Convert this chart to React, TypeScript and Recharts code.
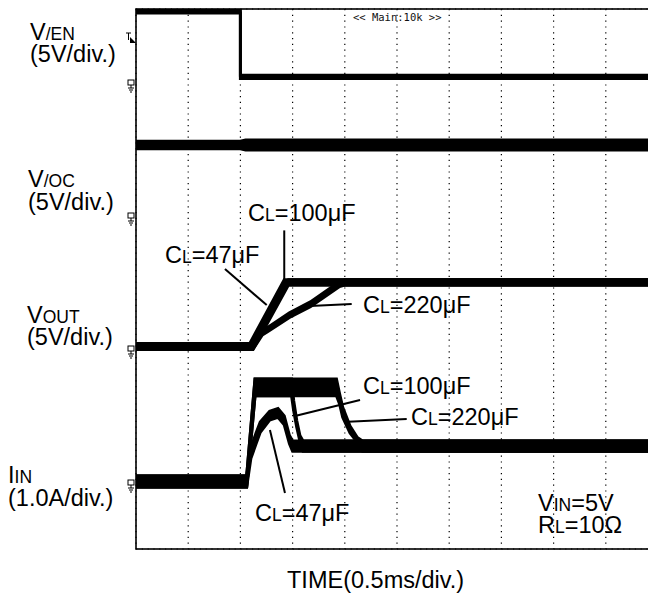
import React from "react";
import {
  ComposedChart,
  Area,
  XAxis,
  YAxis,
  CartesianGrid,
  ReferenceLine,
} from "recharts";

type P = { t: number; lo: number; hi: number };

// time in ms (0.5 ms/div, 10 div)
const timeTicks = [0, 0.5, 1, 1.5, 2, 2.5, 3, 3.5, 4, 4.5, 5];
const divTicks = [0, 1, 2, 3, 4, 5, 6, 7, 8];

// V/EN (V), envelope lo/hi
const enTrace: P[] = [
  { t: 0, lo: 4.7, hi: 4.95 },
  { t: 1.0, lo: 4.7, hi: 4.95 },
  { t: 1.0, lo: -0.15, hi: 0.1 },
  { t: 5, lo: -0.15, hi: 0.1 },
];

// V/OC (V)
const ocTrace: P[] = [
  { t: 0, lo: 4.65, hi: 5.2 },
  { t: 1.0, lo: 4.65, hi: 5.2 },
  { t: 1.05, lo: 4.55, hi: 5.3 },
  { t: 5, lo: 4.55, hi: 5.3 },
];

// VOUT (V)
const vout47: P[] = [
  { t: 0, lo: -0.22, hi: 0.22 },
  { t: 1.09, lo: -0.22, hi: 0.22 },
  { t: 1.42, lo: 4.55, hi: 4.95 },
  { t: 5, lo: 4.55, hi: 4.95 },
];
const vout100: P[] = [
  { t: 0, lo: -0.22, hi: 0.22 },
  { t: 1.12, lo: -0.22, hi: 0.22 },
  { t: 1.46, lo: 4.55, hi: 4.95 },
  { t: 5, lo: 4.55, hi: 4.95 },
];
const vout220: P[] = [
  { t: 0, lo: -0.22, hi: 0.22 },
  { t: 1.12, lo: -0.22, hi: 0.22 },
  { t: 1.21, lo: 0.85, hi: 1.15 },
  { t: 1.26, lo: 1.1, hi: 1.4 },
  { t: 1.47, lo: 2.15, hi: 2.5 },
  { t: 1.67, lo: 2.95, hi: 3.3 },
  { t: 1.95, lo: 4.45, hi: 4.8 },
  { t: 2.0, lo: 4.55, hi: 4.95 },
  { t: 5, lo: 4.55, hi: 4.95 },
];

// IIN (A)
const iin47: P[] = [
  { t: 0, lo: -0.08, hi: 0.08 },
  { t: 1.06, lo: -0.08, hi: 0.08 },
  { t: 1.1, lo: 0.34, hi: 0.5 },
  { t: 1.15, lo: 0.56, hi: 0.72 },
  { t: 1.19, lo: 0.73, hi: 0.88 },
  { t: 1.28, lo: 0.91, hi: 1.04 },
  { t: 1.36, lo: 0.95, hi: 1.08 },
  { t: 1.42, lo: 0.84, hi: 0.97 },
  { t: 1.47, lo: 0.56, hi: 0.68 },
  { t: 1.5, lo: 0.45, hi: 0.6 },
  { t: 5, lo: 0.45, hi: 0.6 },
];
const iin100: P[] = [
  { t: 0, lo: -0.08, hi: 0.08 },
  { t: 1.06, lo: -0.08, hi: 0.08 },
  { t: 1.14, lo: 1.27, hi: 1.52 },
  { t: 1.49, lo: 1.27, hi: 1.52 },
  { t: 1.51, lo: 1.05, hi: 1.2 },
  { t: 1.54, lo: 0.8, hi: 0.9 },
  { t: 1.57, lo: 0.6, hi: 0.68 },
  { t: 1.6, lo: 0.45, hi: 0.6 },
  { t: 5, lo: 0.45, hi: 0.6 },
];
const iin220: P[] = [
  { t: 0, lo: -0.08, hi: 0.08 },
  { t: 1.06, lo: -0.08, hi: 0.08 },
  { t: 1.14, lo: 1.27, hi: 1.52 },
  { t: 1.92, lo: 1.27, hi: 1.52 },
  { t: 1.95, lo: 1.15, hi: 1.3 },
  { t: 1.98, lo: 0.95, hi: 1.1 },
  { t: 2.05, lo: 0.72, hi: 0.82 },
  { t: 2.12, lo: 0.58, hi: 0.65 },
  { t: 2.17, lo: 0.45, hi: 0.6 },
  { t: 5, lo: 0.45, hi: 0.6 },
];

const range = (d: P) => [d.lo, d.hi];

const FONT = "'Liberation Sans', Arial, Helvetica, sans-serif";
const BIG = 23.5;
const SMALL = 17.5;

function Lbl({ x, y, parts }: { x: number; y: number; parts: [string, boolean][] }) {
  return (
    <text x={x} y={y} fontFamily={FONT} fontSize={BIG} fill="#000">
      {parts.map(([s, small], i) => (
        <tspan key={i} fontSize={small ? SMALL : BIG}>
          {s}
        </tspan>
      ))}
    </text>
  );
}

function Ground({ x, y }: { x: number; y: number }) {
  return (
    <g stroke="#000" strokeWidth={1} fill="none">
      <rect x={x} y={y} width={6} height={5} fill="#fff" />
      <line x1={x + 3} y1={y + 5} x2={x + 3} y2={y + 8} />
      <line x1={x} y1={y + 8} x2={x + 6} y2={y + 8} />
      <line x1={x + 1} y1={y + 10} x2={x + 5} y2={y + 10} />
      <line x1={x + 2} y1={y + 12} x2={x + 4} y2={y + 12} />
    </g>
  );
}

const series = (id: string, data: P[], key: string) => (
  <Area
    key={key}
    yAxisId={id}
    data={data}
    dataKey={range}
    type="linear"
    stroke="#000"
    strokeWidth={3}
    fill="#000"
    fillOpacity={1}
    dot={false}
    activeDot={false}
    isAnimationActive={false}
  />
);

export default function App() {
  return (
    <div
      style={{
        position: "absolute",
        left: 0,
        top: 0,
        width: 648,
        height: 595,
        overflow: "hidden",
        background: "#fff",
      }}
    >
      <ComposedChart width={660} height={595} margin={{ top: 9, right: 2, bottom: 46, left: 136 }}>
        <XAxis type="number" dataKey="t" domain={[0, 5]} ticks={timeTicks} hide allowDataOverflow />
        <YAxis yAxisId="g" type="number" domain={[0, 8]} ticks={divTicks} hide />
        <YAxis yAxisId="en" type="number" domain={[-35, 5]} hide allowDataOverflow />
        <YAxis yAxisId="oc" type="number" domain={[-25, 15]} hide allowDataOverflow />
        <YAxis yAxisId="vout" type="number" domain={[-15, 25]} hide allowDataOverflow />
        <YAxis yAxisId="iin" type="number" domain={[-1, 7]} hide allowDataOverflow />
        <CartesianGrid yAxisId="g" stroke="#000" strokeWidth={1.2} strokeDasharray="1.2 4.6" />
        {series("en", enTrace, "en")}
        {series("oc", ocTrace, "oc")}
        {series("vout", vout220, "v220")}
        {series("vout", vout100, "v100")}
        {series("vout", vout47, "v47")}
        {series("iin", iin220, "i220")}
        {series("iin", iin100, "i100")}
        {series("iin", iin47, "i47")}
        <ReferenceLine yAxisId="vout" segment={[{ x: 1.42, y: 8.6 }, { x: 1.42, y: 4.95 }]} stroke="#000" strokeWidth={2} ifOverflow="visible" />
        <ReferenceLine yAxisId="vout" segment={[{ x: 0.852, y: 5.74 }, { x: 1.252, y: 3.07 }]} stroke="#000" strokeWidth={2} ifOverflow="visible" />
        <ReferenceLine yAxisId="vout" segment={[{ x: 1.667, y: 3.0 }, { x: 2.066, y: 3.15 }]} stroke="#000" strokeWidth={2} ifOverflow="visible" />
        <ReferenceLine yAxisId="iin" segment={[{ x: 1.523, y: 0.97 }, { x: 2.146, y: 1.207 }]} stroke="#000" strokeWidth={2} ifOverflow="visible" />
        <ReferenceLine yAxisId="iin" segment={[{ x: 2.031, y: 0.886 }, { x: 2.593, y: 0.926 }]} stroke="#000" strokeWidth={2} ifOverflow="visible" />
        <ReferenceLine yAxisId="iin" segment={[{ x: 1.283, y: 0.763 }, { x: 1.427, y: -0.17 }]} stroke="#000" strokeWidth={2} ifOverflow="visible" />
      </ComposedChart>
      <svg
        width={648}
        height={595}
        style={{ position: "absolute", left: 0, top: 0, pointerEvents: "none" }}
      >
        <rect x={136} y={9} width={522} height={540} fill="none" stroke="#000" strokeWidth={1.6} />

        <Lbl x={30} y={40} parts={[["V", false], ["/EN", true]]} />
        <Lbl x={30} y={62} parts={[["(5V/div.)", false]]} />
        <Lbl x={28} y={187} parts={[["V", false], ["/OC", true]]} />
        <Lbl x={28} y={210} parts={[["(5V/div.)", false]]} />
        <Lbl x={27} y={323} parts={[["V", false], ["OUT", true]]} />
        <Lbl x={27} y={345} parts={[["(5V/div.)", false]]} />
        <Lbl x={8} y={483} parts={[["I", false], ["IN", true]]} />
        <Lbl x={8} y={506} parts={[["(1.0A/div.)", false]]} />

        <Lbl x={248} y={221} parts={[["C", false], ["L", true], ["=100μF", false]]} />
        <Lbl x={165} y={263} parts={[["C", false], ["L", true], ["=47μF", false]]} />
        <Lbl x={363} y={313} parts={[["C", false], ["L", true], ["=220μF", false]]} />
        <Lbl x={363} y={394} parts={[["C", false], ["L", true], ["=100μF", false]]} />
        <Lbl x={411} y={425} parts={[["C", false], ["L", true], ["=220μF", false]]} />
        <Lbl x={255} y={521} parts={[["C", false], ["L", true], ["=47μF", false]]} />
        <Lbl x={538} y={511} parts={[["V", false], ["IN", true], ["=5V", false]]} />
        <Lbl x={538} y={533} parts={[["R", false], ["L", true], ["=10Ω", false]]} />
        <Lbl x={287} y={588} parts={[["TIME(0.5ms/div.)", false]]} />

        <text x={353} y={21} fontFamily="'DejaVu Sans Mono', monospace" fontSize={10.5} fill="#111">
          {"<< Main:10k >>"}
        </text>

        <path d="M130 37 L136 43 L130 43 Z" fill="#000" />
        <line x1={126} y1={33} x2={131} y2={33} stroke="#000" strokeWidth={1} />
        <line x1={128.5} y1={33} x2={128.5} y2={40} stroke="#000" strokeWidth={1} />
        <Ground x={128} y={80} />
        <Ground x={128} y={213} />
        <Ground x={128} y={346} />
        <Ground x={128} y={480} />
      </svg>
    </div>
  );
}
